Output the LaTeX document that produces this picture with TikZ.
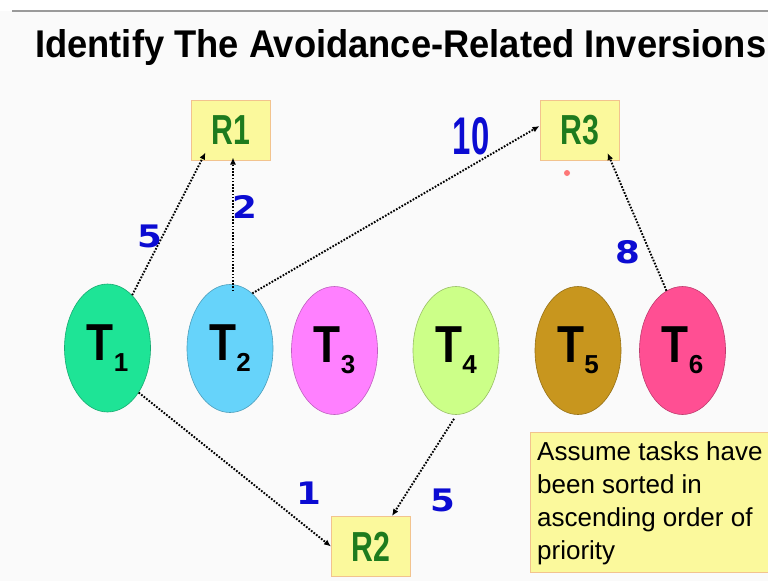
\documentclass[tikz,border=0pt]{standalone}
\usepackage{graphicx}
\usepackage{fontspec}
\setmainfont{Liberation Sans}
\newfontfamily\dejavu{DejaVu Sans}
\usetikzlibrary{shapes.geometric,arrows.meta,calc}
\definecolor{bgcol}{HTML}{FAFAFA}
\definecolor{rulecol}{HTML}{9A9A9A}
\definecolor{boxfill}{HTML}{FBF99C}
\definecolor{boxline}{HTML}{F2C38E}
\definecolor{rgreen}{HTML}{1E7B1E}
\definecolor{wblue}{HTML}{0B0BD2}
\definecolor{tone}{HTML}{1EE496}
\definecolor{ttwo}{HTML}{66D3FA}
\definecolor{tthree}{HTML}{FF80FF}
\definecolor{tfour}{HTML}{CCFF88}
\definecolor{tfive}{HTML}{C8961E}
\definecolor{tsix}{HTML}{FF4F93}
\newcommand\tasklabel[1]{\bfseries\scalebox{0.85}[1]{\fontsize{52}{52}\selectfont T}\raisebox{-11pt}{\fontsize{26}{26}\selectfont #1}}
\newcommand\reslabel[1]{\scalebox{0.72}[1]{\bfseries\fontsize{42}{42}\selectfont #1}}
\begin{document}
\begin{tikzpicture}[x=1pt,y=-1pt,
  task/.style={ellipse, draw=#1!75!black, fill=#1, line width=0.6pt,
    minimum width=86pt, minimum height=128pt, inner sep=0pt},
  resbox/.style={rectangle, draw=boxline, fill=boxfill, line width=1pt,
    minimum width=79pt, minimum height=60pt, inner sep=0pt, text=rgreen},
  link/.style={draw=black, line width=1.9pt, dash pattern=on 1.7pt off 1.5pt,
    -{Latex[length=7pt,width=6pt]}},
  weight/.style={text=wblue, inner sep=0pt,
    font=\dejavu\bfseries\fontsize{31}{31}\selectfont}]
\useasboundingbox (0,0) rectangle (768,581);
\fill[bgcol] (0,0) rectangle (768,581);
\fill[white] (0,0) rectangle (768,11);
\coordinate (ruleA) at (12,11);
\coordinate (ruleB) at (768,11);
\draw[rulecol, line width=1.5pt] (ruleA) -- (ruleB);

\node[anchor=base west, inner sep=0pt] (title) at (35,57)
  {\resizebox{731pt}{28pt}{\bfseries Identify The Avoidance-Related Inversions}};

% resources
\node[resbox] (R1) at (230.5,130) {\reslabel{R1}};
\node[resbox] (R3) at (579.5,130.5) {\reslabel{R3}};
\node[resbox] (R2) at (371,546.5) {\reslabel{R2}};

% tasks
\node[task=tone]   (T1) at (107.5,348)   {\tasklabel{1}};
\node[task=ttwo]   (T2) at (230,348.5)   {\tasklabel{2}};
\node[task=tthree] (T3) at (334.5,350.5) {\tasklabel{3}};
\node[task=tfour]  (T4) at (456,350.5)   {\tasklabel{4}};
\node[task=tfive]  (T5) at (578,350.5)   {\tasklabel{5}};
\node[task=tsix]   (T6) at (682.5,350.5) {\tasklabel{6}};

% note
\node[rectangle, draw=boxline, fill=boxfill, line width=1pt, inner sep=0pt,
  minimum width=242pt, minimum height=140pt] (note) at (651,502) {};
\node[anchor=north west, inner sep=0pt, align=left,
  font=\fontsize{26}{33}\selectfont] (notetext) at (537,441)
  {Assume tasks have\\been sorted in\\ascending order of\\priority};

% connectors
\draw[link] (T1.65) -- ($(R1.south west)+(15,-8)$);
\draw[link] ($(T2.north)+(3,7)$) -- ($(R1.south)+(2.5,-3)$);
\draw[link] (T2.68) -- ($(R3.west)+(0,-4.5)$);
\draw[link] (T6.105) -- ($(R3.south east)+(-12,-8)$);
\draw[link] (T1.-55) -- (R2.west);
\draw[link] ($(T4.south)+(-2,4)$) -- ($(R2.north east)+(-19,0)$);

% weights
\node[weight] (w1) at (150,236) {\scalebox{1.15}[1]{5}};
\node[weight] (w2) at (245,207) {\scalebox{1.15}[1]{2}};
\node[text=wblue, inner sep=0pt] (w3) at (471,136)
  {\scalebox{0.62}[1]{\bfseries\fontsize{53}{53}\selectfont 10}};
\node[weight] (w4) at (628,252) {\scalebox{1.15}[1]{8}};
\node[weight] (w5) at (309,493) {\scalebox{1.15}[1]{1}};
\node[weight] (w6) at (443,500) {\scalebox{1.15}[1]{5}};

% pointer dot
\fill[red!75!white, opacity=0.7] (567,173) circle (3);
\end{tikzpicture}
\end{document}
